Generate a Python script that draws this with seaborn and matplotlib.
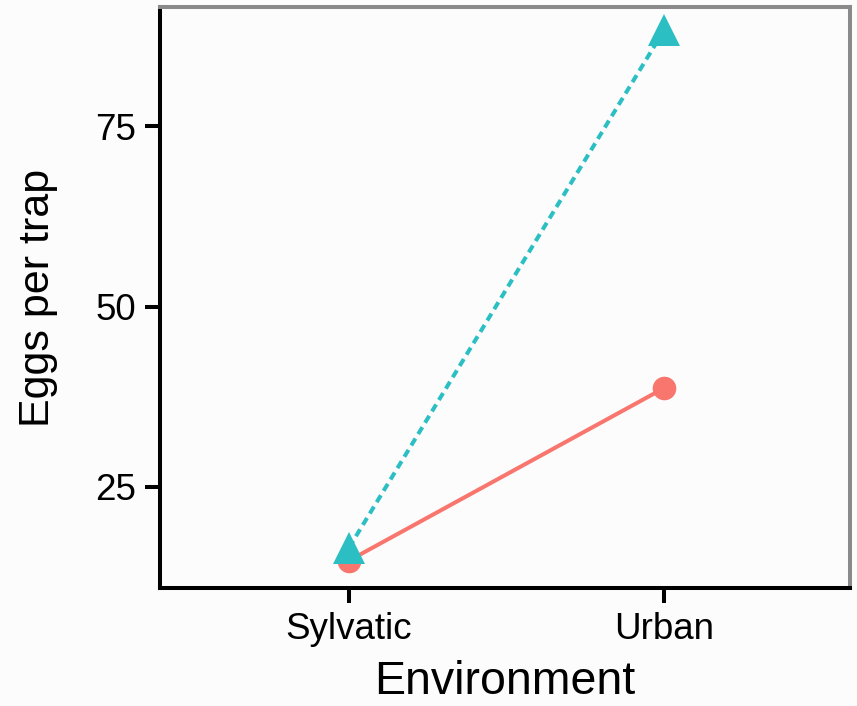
import matplotlib
matplotlib.use("Agg")
import matplotlib.pyplot as plt
import seaborn as sns
import pandas as pd

# Data
environment = ["Sylvatic", "Urban"]
series_a = [14.8, 38.7]   # salmon circles, solid line
series_b = [16.6, 88.3]   # teal triangles, dashed line
yticks = [25, 50, 75]

df = pd.DataFrame({
    "Environment": environment * 2,
    "Eggs": series_a + series_b,
    "Group": ["A"] * len(environment) + ["B"] * len(environment),
})

sns.set_style("ticks")
plt.rcParams["font.family"] = ["Liberation Sans", "DejaVu Sans"]
plt.rcParams["text.color"] = "black"
plt.rcParams["axes.labelcolor"] = "black"

fig = plt.figure(figsize=(8.57, 7.06), dpi=100, facecolor="#fcfcfc")
ax = fig.add_axes([160 / 857, 118 / 706, 690 / 857, 581 / 706])
ax.set_facecolor("#fcfcfc")

palette = {"A": "#F8766D", "B": "#2BBFC4"}
sns.lineplot(
    data=df, x="Environment", y="Eggs", hue="Group", style="Group",
    palette=palette, markers={"A": "o", "B": "^"},
    dashes={"A": "", "B": (2.0, 1.3)}, linewidth=2.9,
    markersize=17, markeredgewidth=0, legend=False, ax=ax, sort=False,
)
for line in ax.lines:
    if line.get_marker() == "^":
        line.set_markersize(23)

ax.set_xlim(-0.6, 1.59)
ax.set_ylim(11.0, 91.5)
ax.set_yticks(yticks)
ax.set_yticklabels([str(v) for v in yticks])

for side in ["left", "bottom"]:
    ax.spines[side].set_color("black")
    ax.spines[side].set_linewidth(2.9)
for side in ["top", "right"]:
    ax.spines[side].set_visible(True)
    ax.spines[side].set_color("#8a8a8a")
    ax.spines[side].set_linewidth(2.9)

ax.tick_params(axis="both", length=11, width=2.9, color="black",
               labelsize=26.5, pad=6, labelcolor="black")
ax.set_xlabel("Environment", fontsize=33.5, labelpad=10, color="black")
ax.set_ylabel("Eggs per trap", fontsize=31, labelpad=27, color="black")

fig.savefig("out.png", dpi=100, facecolor=fig.get_facecolor())
